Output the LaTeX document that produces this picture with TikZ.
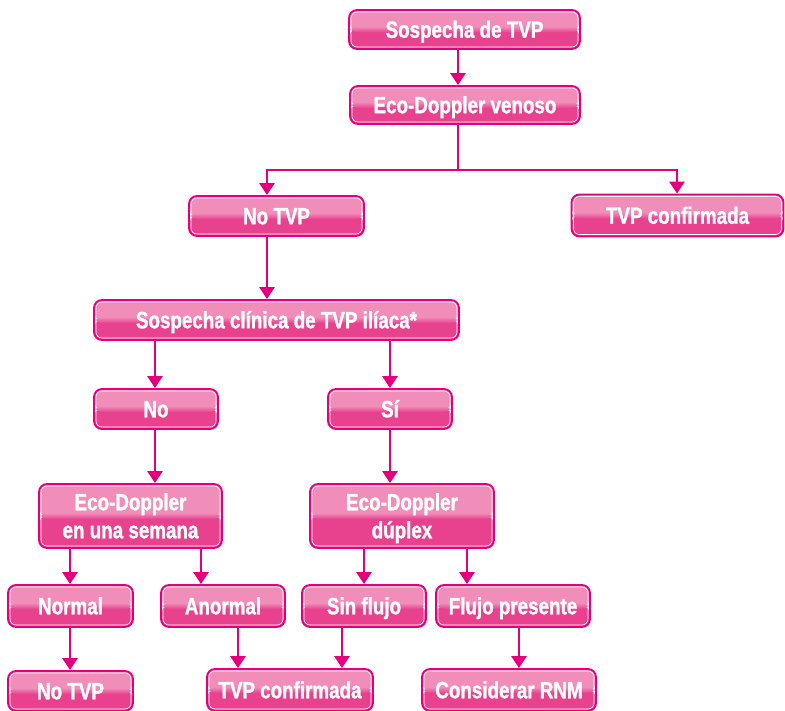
\documentclass[tikz,border=0pt]{standalone}
\usepackage{fontspec}
\setmainfont{Liberation Sans}[FakeStretch=0.80, BoldFeatures={FakeBold=1.2}]
\usetikzlibrary{arrows.meta,calc}
\definecolor{mag}{HTML}{E4007C}
\definecolor{toppink}{HTML}{F08DB8}
\definecolor{botpink}{HTML}{E8428F}
\tikzset{
  box/.style={draw=mag, line width=1.8pt, rounded corners=8pt, inner sep=0pt,
    text=white, font=\fontsize{23.5}{28}\selectfont\bfseries, align=center,
    text height=16.5pt, text depth=0pt,
    path picture={
      \fill[toppink] (path picture bounding box.north west) rectangle (path picture bounding box.east);
      \fill[botpink] (path picture bounding box.west) rectangle (path picture bounding box.south east);
      \shade[top color=toppink, bottom color=botpink] ($(path picture bounding box.west)+(0,3)$) rectangle ($(path picture bounding box.east)+(0,-3)$);
      \draw[white, line width=0.6pt, rounded corners=6pt] ($(path picture bounding box.north west)+(2,-2)$) rectangle ($(path picture bounding box.south east)+(-2,2)$);
    }},
  twoline/.style={text height=44.5pt, text depth=0pt},
  ln/.style={draw=mag, line width=2.8pt},
  arr/.style={ln, -{Triangle[width=15pt,length=12pt]}}
}
\begin{document}
\begin{tikzpicture}[x=1pt,y=1pt]
\useasboundingbox (0,0) rectangle (785,-711);
% nodes
\node[box, minimum width=231, minimum height=39] (s1) at (464.5,-29.5) {Sospecha de TVP};
\node[box, minimum width=230, minimum height=38] (s2) at (465,-105) {Eco-Doppler venoso};
\node[box, minimum width=175, minimum height=40] (n3) at (276.5,-216) {No TVP};
\node[box, minimum width=212, minimum height=42] (n4) at (677.5,-215.5) {TVP confirmada};
\node[box, minimum width=365, minimum height=40] (n5) at (276.5,-320) {Sospecha clínica de TVP ilíaca*};
\node[box, minimum width=124, minimum height=40] (n6) at (156,-409) {No};
\node[box, minimum width=124, minimum height=40] (n7) at (390,-409) {Sí};
\node[box, twoline, minimum width=183, minimum height=64] (n8) at (130.5,-516) {Eco-Doppler\\en una semana};
\node[box, twoline, minimum width=184, minimum height=64] (n9) at (402,-516) {Eco-Doppler\\dúplex};
\node[box, minimum width=125, minimum height=42] (n10) at (70.5,-606) {Normal};
\node[box, minimum width=124, minimum height=42] (n11) at (223,-606) {Anormal};
\node[box, minimum width=124, minimum height=42] (n12) at (364,-606) {Sin flujo};
\node[box, minimum width=154, minimum height=42] (n13) at (513,-606) {Flujo presente};
\node[box, minimum width=125, minimum height=40] (n14) at (70.5,-691) {No TVP};
\node[box, minimum width=166, minimum height=42] (n15) at (290,-690) {TVP confirmada};
\node[box, minimum width=174, minimum height=42] (n16) at (509,-690) {Considerar RNM};
% guide coordinates
\coordinate (xa) at (458,0);
\coordinate (split) at (458,-170);
\coordinate (xb) at (267,0);
\coordinate (xc) at (677,0);
\coordinate (xd) at (155,0);
\coordinate (xe) at (390,0);
\coordinate (xf) at (70,0);
\coordinate (xg) at (201,0);
\coordinate (xh) at (364,0);
\coordinate (xi) at (467,0);
\coordinate (xj) at (238,0);
\coordinate (xk) at (342,0);
\coordinate (xl) at (519,0);
% connectors
\draw[arr] (s1.south -| xa) -- (s2.north -| xa);
\draw[ln] (s2.south -| xa) -- (split);
\draw[ln] ($(split -| xb)+(-1.4,0)$) -- ($(split -| xc)+(1.4,0)$);
\draw[arr] (split -| xb) -- (n3.north -| xb);
\draw[arr] (split -| xc) -- (n4.north -| xc);
\draw[arr] (n3.south -| xb) -- (n5.north -| xb);
\draw[arr] (n5.south -| xd) -- (n6.north -| xd);
\draw[arr] (n5.south -| xe) -- (n7.north -| xe);
\draw[arr] (n6.south -| xd) -- (n8.north -| xd);
\draw[arr] (n7.south -| xe) -- (n9.north -| xe);
\draw[arr] (n8.south -| xf) -- (n10.north -| xf);
\draw[arr] (n8.south -| xg) -- (n11.north -| xg);
\draw[arr] (n9.south -| xh) -- (n12.north -| xh);
\draw[arr] (n9.south -| xi) -- (n13.north -| xi);
\draw[arr] (n10.south -| xf) -- (n14.north -| xf);
\draw[arr] (n11.south -| xj) -- (n15.north -| xj);
\draw[arr] (n12.south -| xk) -- (n15.north -| xk);
\draw[arr] (n13.south -| xl) -- (n16.north -| xl);
\end{tikzpicture}
\end{document}
